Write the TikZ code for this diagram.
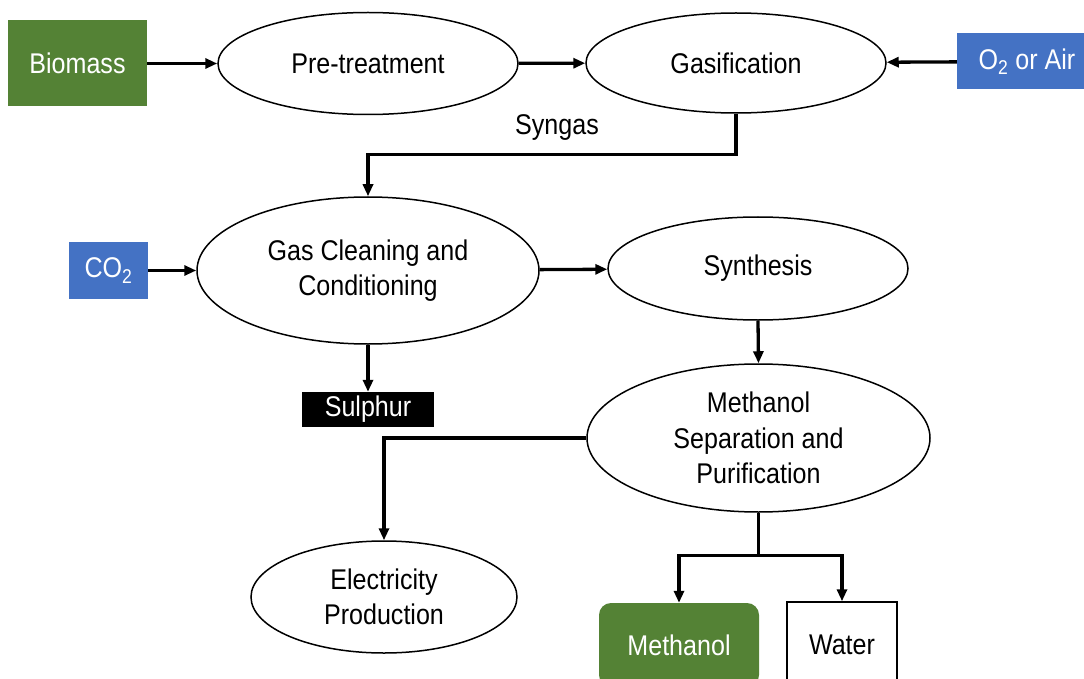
\documentclass[tikz,border=0pt]{standalone}
\usepackage{fontspec}
\setmainfont{Liberation Sans}[FakeStretch=0.88]
\usetikzlibrary{shapes.geometric,arrows.meta,calc}
\definecolor{bgreen}{HTML}{548235}
\definecolor{bblue}{HTML}{4472C4}
\begin{document}
\begin{tikzpicture}[x=1pt,y=-1pt,
  every node/.style={font=\fontsize{28.5}{35.5}\selectfont, align=center, inner sep=0pt},
  proc/.style={ellipse, draw=black, line width=1.5pt, fill=white},
  flow/.style={line width=3.3pt, -{Triangle[length=12pt,width=10pt]}},
  plain/.style={line width=3.3pt}]
\useasboundingbox (0,0) rectangle (1084,679);
\clip (0,0) rectangle (1084,679);
\fill[white] (0,0) rectangle (1084,679);

\node[rectangle, fill=bgreen, text=white, minimum width=139pt, minimum height=86pt] (bio) at (77.5,63.5) {Biomass};
\node[proc, minimum width=300pt, minimum height=102pt] (pre) at (368,63.5) {Pre-treatment};
\node[proc, minimum width=300pt, minimum height=100pt] (gas) at (736,63) {Gasification};
\node[rectangle, fill=bblue, text=white, minimum width=140pt, minimum height=56pt] (o2) at (1027,61.5) {O\textsubscript{2} or Air};
\node (syn) at (557,128) {Syngas};
\node[proc, minimum width=342pt, minimum height=147pt] (clean) at (368,270.5) {Gas Cleaning and\\Conditioning};
\node[rectangle, fill=bblue, text=white, minimum width=79pt, minimum height=57pt] (co2) at (108.5,270.5) {CO\textsubscript{2}};
\node[proc, minimum width=300pt, minimum height=103pt] (synth) at (758,268.5) {Synthesis};
\node[rectangle, fill=black, text=white, minimum width=132pt, minimum height=35pt] (sul) at (368,409.5) {Sulphur};
\node[proc, minimum width=343pt, minimum height=148pt] (sep) at (758.5,438) {Methanol\\Separation and\\Purification};
\node[proc, minimum width=266pt, minimum height=112pt] (elec) at (384,597) {Electricity\\Production};
\node[rectangle, rounded corners=12pt, fill=bgreen, text=white, minimum width=160pt, minimum height=84pt] (meth) at (679,645) {Methanol};
\node[rectangle, draw=black, line width=1.5pt, fill=white, minimum width=110pt, minimum height=86pt] (water) at (842,645) {Water};

\draw[flow] (bio) -- (pre);
\draw[flow] (pre) -- (gas);
\draw[flow] (o2) -- (gas);
\draw[flow] (gas.south) -- ++(0,41) -| (clean.north);
\draw[flow] (co2) -- (clean);
\draw[flow] (clean) -- (synth);
\draw[flow] (clean.south) -- (sul.north);
\draw[flow] (synth.south) -- (sep.north);
\draw[flow] (sep.west) -| (elec.north);
\draw[plain] (sep.south) -- ++(0,43) coordinate (split);
\draw[flow] (split) -| (meth.north);
\draw[flow] (split) -| (water.north);
\end{tikzpicture}
\end{document}
